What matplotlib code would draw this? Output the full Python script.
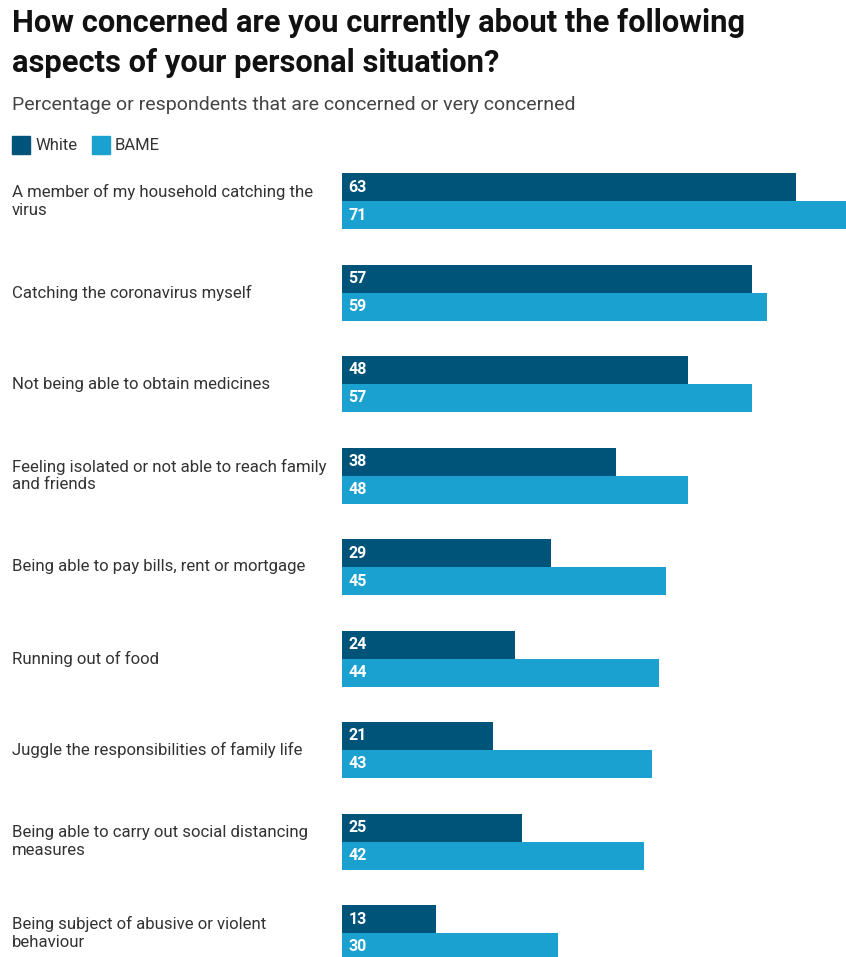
import matplotlib.pyplot as plt
from matplotlib.patches import Rectangle

plt.rcParams['font.family'] = ['Roboto', 'DejaVu Sans']

# Chart data
categories = [
    "A member of my household catching the\nvirus",
    "Catching the coronavirus myself",
    "Not being able to obtain medicines",
    "Feeling isolated or not able to reach family\nand friends",
    "Being able to pay bills, rent or mortgage",
    "Running out of food",
    "Juggle the responsibilities of family life",
    "Being able to carry out social distancing\nmeasures",
    "Being subject of abusive or violent\nbehaviour",
]
white = [63, 57, 48, 38, 29, 24, 21, 25, 13]
bame = [71, 59, 57, 48, 45, 44, 43, 42, 30]
series_names = ["White", "BAME"]

dark = "#00547a"
light = "#1ba1cf"

fig = plt.figure(figsize=(8.46, 9.57), dpi=100)
W, H = 846, 957

ax = fig.add_axes([342 / W, 0, 504 / W, 1 - 173 / H])
bh = 28 / 91.5
ys = list(range(len(categories)))

ax.barh([y - bh / 2 for y in ys], white, height=bh, color=dark)
ax.barh([y + bh / 2 for y in ys], bame, height=bh, color=light)

for y, w, b in zip(ys, white, bame):
    ax.text(0.9, y - bh / 2, str(w), color="white", fontsize=11.5, fontweight="bold",
            va="center", ha="left")
    ax.text(0.9, y + bh / 2, str(b), color="white", fontsize=11.5, fontweight="bold",
            va="center", ha="left")

ax.set_xlim(0, 70)
ax.set_ylim((957 - 201) / 91.5, -bh)
ax.axis("off")

# category labels on the left
for y, cat in zip(ys, categories):
    fy = 1 - (201 + 91.5 * y) / H
    fig.text(12 / W, fy, cat, fontsize=12.1, color="#333333", va="center", ha="left",
             linespacing=1.2)

# titles
fig.text(12 / W, 1 - 43 / H, "How concerned are you currently about the following\naspects of your personal situation?",
         fontsize=22.2, fontweight="bold", color="#111111", va="center", ha="left",
         linespacing=1.45)
fig.text(12 / W, 1 - 105 / H, "Percentage or respondents that are concerned or very concerned",
         fontsize=14, color="#444444", va="center", ha="left")

# legend
lx = 12
for name, col in zip(series_names, [dark, light]):
    fig.patches.append(Rectangle((lx / W, 1 - 154 / H), 18 / W, 18 / H,
                                 transform=fig.transFigure, color=col))
    fig.text((lx + 23) / W, 1 - 145 / H, name, fontsize=12, color="#333333",
             va="center", ha="left")
    lx = 92

fig.savefig("out.png", dpi=100)
